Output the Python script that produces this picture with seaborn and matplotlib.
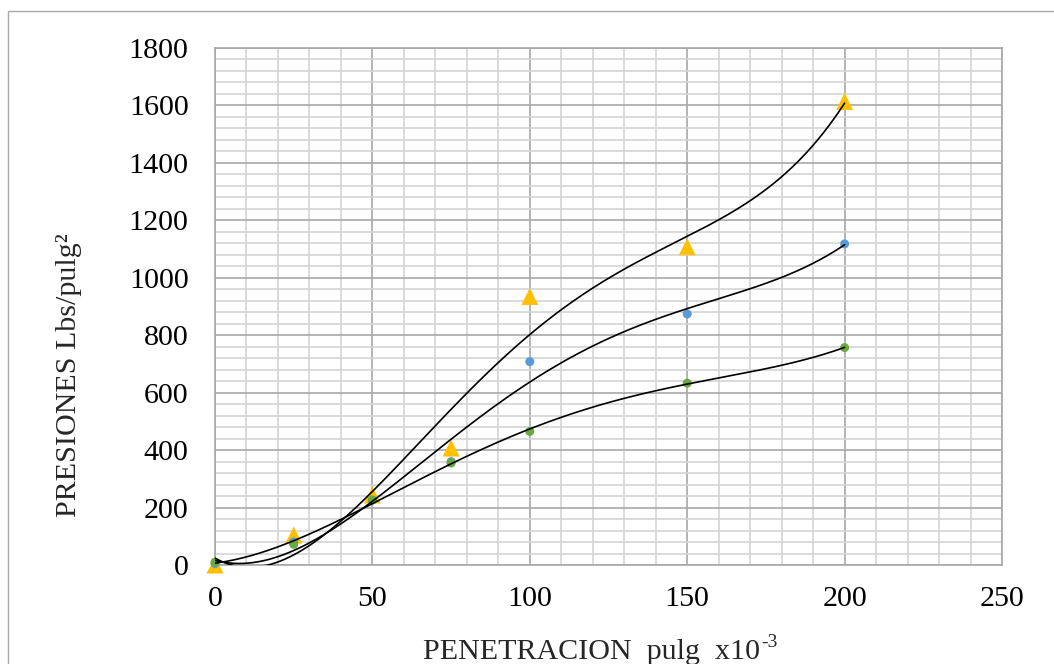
import numpy as np
import matplotlib
matplotlib.use("Agg")
import matplotlib.pyplot as plt
import seaborn as sns
from matplotlib.ticker import MultipleLocator, FixedLocator
from matplotlib.patches import Rectangle

# ---- data ----
penetracion = [0, 25, 50, 75, 100, 150, 200]
serie_azul = [5, 80, 226, 360, 708, 874, 1118]
serie_verde = [10, 72, 226, 355, 465, 633, 757]
serie_amarilla = [0, 104, 244, 407, 935, 1108, 1614]
x_ticks = [0, 50, 100, 150, 200, 250]
y_ticks = [0, 200, 400, 600, 800, 1000, 1200, 1400, 1600, 1800]
x_label = "PENETRACION  pulg  x10"
x_label_sup = "-3"
y_label = "PRESIONES Lbs/pulg²"

sns.set_theme(style="white")
plt.rcParams['font.family'] = ['Liberation Serif', 'DejaVu Serif']

W, H = 1054, 664
fig = plt.figure(figsize=(W / 100, H / 100), dpi=100)
ax = fig.add_axes([215 / W, 1 - 565 / H, (1002 - 215) / W, (565 - 48) / H])

ax.set_xlim(0, 250)
ax.set_ylim(0, 1800)
ax.xaxis.set_major_locator(FixedLocator(x_ticks))
ax.yaxis.set_major_locator(FixedLocator(y_ticks))
ax.xaxis.set_minor_locator(MultipleLocator(10))
ax.yaxis.set_minor_locator(MultipleLocator(40))
ax.set_axisbelow(True)
ax.grid(which='minor', color='#d4d4d4', lw=1.2)
ax.grid(which='major', color='#a8a8a8', lw=1.2)
ax.tick_params(which='minor', length=0)
ax.tick_params(which='major', length=6, width=1.2, color='#a8a8a8',
               labelsize=21.6, labelcolor='black')
ax.tick_params(axis='y', pad=13)
ax.tick_params(axis='x', pad=9)
for s in ax.spines.values():
    s.set_color('#a8a8a8')
    s.set_linewidth(1.2)

# markers (drawn beneath trendlines)
sns.scatterplot(x=penetracion, y=serie_amarilla, marker='^', s=150, color='#FFC000',
                edgecolor='none', ax=ax, clip_on=False, zorder=3)
sns.scatterplot(x=penetracion, y=serie_azul, marker='o', s=42, color='#5B9BD5',
                edgecolor='none', ax=ax, clip_on=False, zorder=4)
sns.scatterplot(x=penetracion, y=serie_verde, marker='o', s=42, color='#6AA842',
                edgecolor='none', ax=ax, clip_on=False, zorder=5)

# polynomial trendlines fitted to each series
xs = np.linspace(0, 200, 400)
for serie in (serie_amarilla, serie_azul, serie_verde):
    coef = np.polyfit(penetracion, serie, 4)
    ys = np.polyval(coef, xs)
    sns.lineplot(x=xs, y=ys, color='black', lw=1.2, ax=ax, estimator=None,
                 sort=False, zorder=6)

ax.set_xlabel("")
ax.set_ylabel("")

# axis titles
fig.text(69 / W, 1 - 375 / H, y_label, rotation=90, ha='center', va='center',
         fontsize=21.6)
t = fig.text(423 / W, 1 - 659 / H, x_label, ha='left', va='baseline', fontsize=21.6)
fig.canvas.draw()
bb = t.get_window_extent()
fig.text((bb.x1 + 1) / W, 1 - 647 / H, x_label_sup, ha='left', va='baseline',
         fontsize=14)

# chart-area frame
fig.patches.append(Rectangle((8 / W, -0.2), 1.2, 1 - 11 / H + 0.2,
                             transform=fig.transFigure, fill=False,
                             ec='#a8a8a8', lw=1.0))

fig.savefig("out.png", dpi=100)
